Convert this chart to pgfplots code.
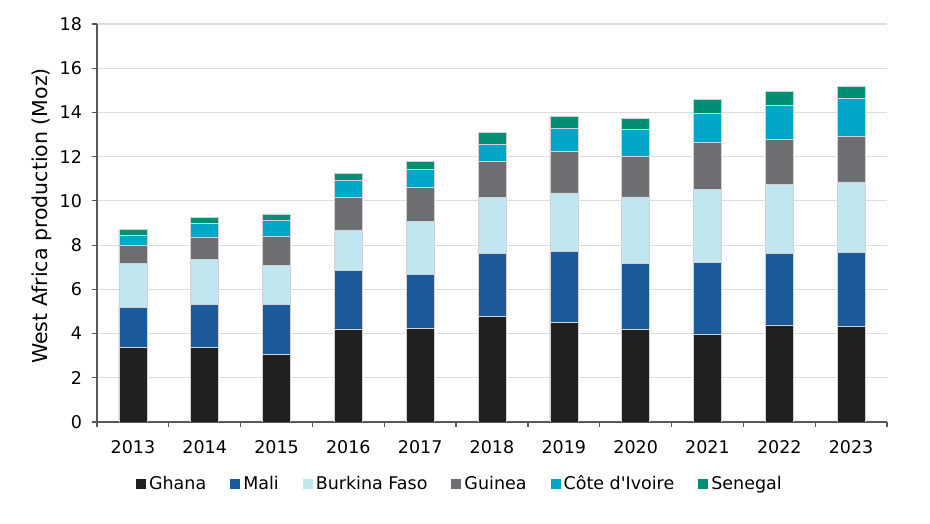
\documentclass[border=0pt]{standalone}
\usepackage{pgfplots}
\pgfplotsset{compat=1.18}
\usepackage{pgfplotstable}
\usepackage{fontspec}
\setmainfont{DejaVu Sans}[Ligatures=TeXOff]
\definecolor{cGhana}{HTML}{202020}
\definecolor{cMali}{HTML}{1B5A9B}
\definecolor{cBF}{HTML}{C0E6F0}
\definecolor{cGuinea}{HTML}{6D6E71}
\definecolor{cCI}{HTML}{00A6C8}
\definecolor{cSen}{HTML}{008F72}
\definecolor{axgray}{HTML}{595959}
\definecolor{gridgray}{HTML}{DDDDDD}
\pgfplotstableread{
x Ghana Mali BF Guinea CI Sen
0  3.37 1.81 1.99 0.80 0.46 0.27
1  3.39 1.94 2.02 1.02 0.61 0.28
2  3.05 2.28 1.76 1.33 0.69 0.30
3  4.21 2.64 1.84 1.46 0.78 0.31
4  4.25 2.42 2.41 1.52 0.83 0.35
5  4.77 2.86 2.52 1.65 0.78 0.51
6  4.52 3.19 2.65 1.88 1.04 0.55
7  4.18 3.00 3.00 1.83 1.22 0.51
8  3.98 3.23 3.32 2.11 1.31 0.65
9  4.39 3.24 3.11 2.04 1.56 0.62
10 4.32 3.36 3.18 2.08 1.68 0.54
}\data
\begin{document}
\fontsize{17.5}{20}\selectfont
\begin{tikzpicture}[x=1pt,y=1pt]
\path (0,0) rectangle (930,524);
\begin{axis}[
  at={(97pt,102pt)}, anchor=south west,
  scale only axis, width=790pt, height=398pt,
  ybar stacked, bar width=28pt,
  xmin=-0.5, xmax=10.5, ymin=0, ymax=18,
  ytick={0,2,...,18},
  xtick={0,...,10},
  xticklabels={2013,2014,2015,2016,2017,2018,2019,2020,2021,2022,2023},
  minor xtick={-0.5,0.5,...,10.5},
  major x tick style={draw=none},
  tick align=outside,
  major tick length=5pt, minor tick length=5pt,
  tick style={axgray, line width=1.2pt},
  axis x line*=bottom, axis y line*=left,
  axis line style={axgray, line width=1.4pt, -},
  ymajorgrids, grid style={gridgray, line width=1.2pt},
  ticklabel style={font=\fontsize{17.5}{20}\selectfont},
  xticklabel style={yshift=-7pt},
  yticklabel style={xshift=-4pt},
  /pgf/number format/assume math mode=true,
  ylabel={West Africa production (Moz)},
  ylabel style={font=\fontsize{20.5}{24}\selectfont, yshift=-4pt, xshift=7pt},
  legend columns=6,
  legend style={at={(0.46,-0.155)}, anchor=center, draw=none, fill=none,
    font=\fontsize{17.5}{20}\selectfont,
    nodes={inner xsep=3pt},
    /tikz/every even column/.append style={column sep=21pt}},
  legend image code/.code={\fill[#1,draw=none] (0pt,-5pt) rectangle (10pt,5pt);},
  every axis plot/.append style={draw=gray!35, line width=0.6pt},
]
\addplot[fill=cGhana] table[x=x,y=Ghana]{\data};
\addplot[fill=cMali] table[x=x,y=Mali]{\data};
\addplot[fill=cBF] table[x=x,y=BF]{\data};
\addplot[fill=cGuinea] table[x=x,y=Guinea]{\data};
\addplot[fill=cCI] table[x=x,y=CI]{\data};
\addplot[fill=cSen] table[x=x,y=Sen]{\data};
\legend{Ghana,Mali,Burkina Faso,Guinea,Côte d'Ivoire,Senegal}
\end{axis}
\end{tikzpicture}
\end{document}
